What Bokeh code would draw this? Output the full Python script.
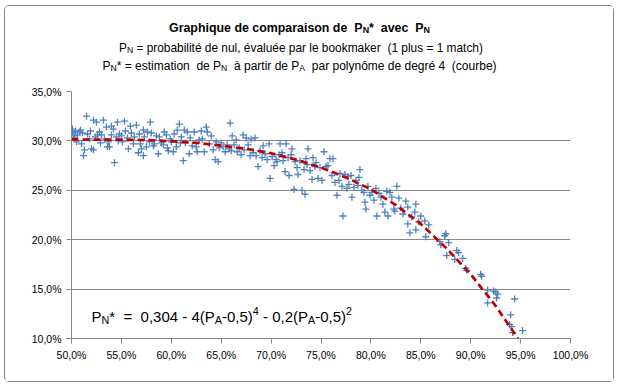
import re
from bokeh.plotting import figure
from bokeh.layouts import column
from bokeh.models import Range1d, FixedTicker, Label
from bokeh.embed import file_html
from bokeh.resources import INLINE

# ---------------- data (percent) ----------------
pa = [50.0, 50.1, 50.1, 50.2, 50.3, 50.4, 50.5, 50.6, 50.8, 50.9, 51.0, 51.1, 51.2, 51.3, 51.5, 51.6, 51.8, 51.9, 52.0, 52.2, 52.2, 52.4, 52.5, 52.6, 52.8, 52.9, 53.0,
      53.2, 53.3, 53.5, 53.6, 53.7, 53.8, 54.0, 54.0, 54.2, 54.3, 54.5, 54.6, 54.7, 54.8, 55.0, 55.1, 55.3, 55.4, 55.6, 55.7, 55.9, 56.0, 56.2, 56.3, 56.5, 56.7, 56.8, 56.9,
      57.0, 57.2, 57.2, 57.3, 57.5, 57.6, 57.8, 57.9, 58.0, 58.2, 58.3, 58.5, 58.7, 58.8, 59.0, 59.2, 59.3, 59.5, 59.6, 59.7, 59.9, 60.0, 60.2, 60.3, 60.5, 60.6, 60.8, 60.9,
      61.0, 61.2, 61.3, 61.4, 61.6, 61.8, 61.9, 62.1, 62.3, 62.5, 62.6, 62.8, 63.0, 63.1, 63.3, 63.5, 63.6, 63.8, 64.0, 64.2, 64.4, 64.5, 64.7, 64.8, 65.0, 65.2, 65.4, 65.6, 65.8, 65.9,
      66.0, 66.1, 66.3, 66.5, 66.6, 66.8, 67.0, 67.2, 67.3, 67.5, 67.7, 67.9, 68.0, 68.2, 68.4, 68.5, 68.7, 68.9, 69.1, 69.2, 69.4, 69.6, 69.8, 69.9, 70.1, 70.3, 70.5, 70.6, 70.8, 70.9,
      71.1, 71.2, 71.4, 71.5, 71.7, 71.8, 72.0, 72.1, 72.3, 72.4, 72.6, 72.7, 72.9, 73.1, 73.3, 73.4, 73.5, 73.6, 73.7, 73.9, 74.1, 74.2, 74.4, 74.5, 74.7, 74.9, 75.1, 75.3, 75.5, 75.7, 75.9,
      76.1, 76.2, 76.4, 76.6, 76.8, 76.9, 77.1, 77.2, 77.4, 77.6, 77.7, 77.8, 78.0, 78.1, 78.3, 78.5, 78.7, 78.8, 78.9, 79.1, 79.3, 79.4, 79.5, 79.7, 79.9, 80.1, 80.3, 80.5, 80.6, 80.8,
      81.0, 81.2, 81.4, 81.6, 81.7, 81.9, 82.1, 82.3, 82.4, 82.6, 82.8, 83.0, 83.2, 83.5, 83.7, 83.7, 83.9, 84.1, 84.4, 84.5, 84.5, 84.8, 85.0, 85.4, 85.5, 85.8,
      86.9, 87.0, 87.4, 87.5, 87.6, 87.8, 88.4, 88.6, 88.8, 89.2, 89.5, 89.6, 91.0, 91.1, 91.7, 91.7, 92.3, 92.5, 92.6, 92.7, 94.0, 94.1, 94.4, 94.2, 93.9, 95.2]
pn = [30.8, 31.2, 30.9, 30.3, 30.5, 31.0, 29.9, 30.6, 30.9, 31.1, 29.7, 30.8, 28.5, 29.1, 32.5, 30.7, 30.2, 31.0, 29.2, 32.1, 29.1, 30.4, 31.9, 30.6, 30.9, 29.8, 30.6,
      32.1, 30.2, 31.4, 29.4, 29.9, 29.4, 31.5, 30.6, 31.2, 27.8, 30.4, 31.9, 30.0, 30.7, 30.5, 29.9, 32.0, 31.0, 30.3, 29.2, 31.5, 30.8, 29.7, 30.4, 31.6, 28.8, 30.7, 29.7,
      29.2, 31.1, 28.5, 30.4, 29.4, 30.9, 29.9, 31.9, 30.8, 29.5, 29.7, 30.5, 28.7, 30.4, 29.8, 29.6, 30.9, 30.6, 29.3, 29.0, 30.2, 29.9, 28.9, 30.7, 29.4, 31.1, 31.7, 29.8,
      30.4, 28.0, 31.1, 29.8, 30.9, 28.7, 30.3, 29.5, 30.9, 29.4, 28.9, 30.1, 31.0, 30.2, 28.9, 31.4, 30.9, 29.7, 30.5, 29.1, 28.1, 29.9, 27.9, 29.3, 29.8, 29.4, 28.9, 29.6, 29.2, 31.8,
      29.0, 30.5, 29.6, 30.1, 28.9, 29.3, 28.6, 30.6, 29.1, 30.3, 29.6, 28.5, 30.2, 28.8, 30.3, 28.5, 27.4, 29.0, 28.3, 29.5, 28.7, 28.1, 29.7, 26.2, 28.4, 27.5, 28.1, 27.9, 28.6, 29.7,
      28.8, 28.0, 26.9, 29.7, 28.3, 26.5, 28.6, 29.2, 25.1, 27.9, 27.3, 26.6, 28.0, 25.0, 27.1, 24.6, 28.2, 27.6, 29.2, 27.0, 26.1, 28.3, 27.4, 27.8, 26.2, 27.3, 26.0, 28.9, 27.4, 27.5, 28.2,
      26.5, 28.2, 25.8, 24.5, 26.0, 26.7, 25.4, 22.4, 26.6, 25.2, 26.4, 25.6, 26.5, 24.3, 25.3, 26.0, 25.5, 26.3, 27.1, 25.0, 24.8, 23.8, 23.1, 25.4, 24.5, 24.8, 24.0, 25.2, 22.4, 24.7,
      24.3, 23.6, 22.8, 24.9, 22.4, 24.8, 24.3, 23.1, 22.9, 25.4, 24.2, 23.2, 22.6, 23.9, 23.3, 21.6, 20.7, 22.3, 22.8, 23.6, 21.0, 21.8, 22.4, 21.9, 20.3, 21.5,
      19.8, 19.5, 20.4, 20.6, 18.4, 19.7, 18.0, 18.9, 18.7, 18.1, 17.1, 16.9, 16.5, 16.3, 14.9, 13.6, 14.8, 14.7, 14.1, 14.5, 12.4, 11.2, 14.0, 10.6, 11.4, 10.8]

curve_pa = [50, 52.5, 55, 57.5, 60, 62.5, 65, 67.5, 70, 72.5, 75, 77.5, 80, 82.5, 85, 87.5, 90, 92.5, 95]
curve_pn = [30.15, 30.13, 30.12, 30.08, 29.97, 29.8, 29.53, 29.2, 28.75, 28.1, 27.3, 26.3, 25.1, 23.5, 21.6, 19.2, 16.5, 13.3, 9.6]

x_ticks = [50, 55, 60, 65, 70, 75, 80, 85, 90, 95, 100]
x_tick_labels = ["50,0%", "55,0%", "60,0%", "65,0%", "70,0%", "75,0%", "80,0%", "85,0%", "90,0%", "95,0%", "100,0%"]
y_ticks = [10, 15, 20, 25, 30, 35]
y_tick_labels = ["10,0%", "15,0%", "20,0%", "25,0%", "30,0%", "35,0%"]

title_1 = [("n", "Graphique de comparaison de  P"), ("sub", "N"), ("n", "*  avec  P"), ("sub", "N")]
title_2 = [("n", "P"), ("sub", "N"), ("n", " = probabilité de nul, évaluée par le bookmaker  (1 plus = 1 match)")]
title_3 = [("n", "P"), ("sub", "N"), ("n", "* = estimation  de P"), ("sub", "N"), ("n", "  à partir de P"), ("sub", "A"),
           ("n", "  par polynôme de degré 4  (courbe)")]
formula = [("n", "P"), ("sub", "N"), ("n", "*  =  0,304 - 4(P"), ("sub", "A"), ("n", "-0,5)"), ("sup", "4"),
           ("n", " - 0,2(P"), ("sub", "A"), ("n", "-0,5)"), ("sup", "2")]

# ---------------- geometry ----------------
FONT = "Liberation Sans"
GREY = "#868686"
TOTAL_W = 608
TOP_H = 78
MAIN_H = 297
BL, BR = 66, 43           # left / right borders shared by both figures (frames are aligned)
FRAME_W = TOTAL_W - BL - BR
BAND_TOP = 6              # page y of the title band top
MAIN_FRAME_TOP = 92       # page y of the main frame top
FRAME_LEFT = 72           # page x of the frame left edge

# title band: frame aligned with the main frame; data units == px inside the band
top = figure(width=TOTAL_W, height=TOP_H, x_range=Range1d(0, FRAME_W), y_range=Range1d(TOP_H, 0),
             x_axis_type=None, y_axis_type=None, output_backend="svg", toolbar_location=None,
             min_border_left=BL, min_border_right=BR, min_border_top=0, min_border_bottom=0)
top.outline_line_color = None
top.xgrid.visible = False
top.ygrid.visible = False

p = figure(width=TOTAL_W, height=MAIN_H, x_range=Range1d(50, 100), y_range=Range1d(10, 35),
           output_backend="svg", toolbar_location=None,
           min_border_left=BL, min_border_right=BR, min_border_top=7, min_border_bottom=MAIN_H - 7 - 247)
p.outline_line_color = None

p.xaxis.ticker = FixedTicker(ticks=x_ticks)
p.yaxis.ticker = FixedTicker(ticks=y_ticks)
p.xaxis.major_label_overrides = dict(zip(x_ticks, x_tick_labels))
p.yaxis.major_label_overrides = dict(zip(y_ticks, y_tick_labels))
for ax in (p.xaxis, p.yaxis):
    ax.axis_line_color = GREY
    ax.major_tick_line_color = GREY
    ax.minor_tick_line_color = None
    ax.major_tick_in = 0
    ax.major_tick_out = 5
    ax.major_label_standoff = 5
    ax.major_label_text_font = FONT
    ax.major_label_text_font_size = "10.5px"
    ax.major_label_text_color = "#000000"
p.xgrid.grid_line_color = None
p.ygrid.grid_line_color = GREY
p.ygrid.grid_line_width = 1

p.scatter(pa, pn, marker="cross", size=7, line_color="#4F81BD", line_width=1.3)
p.line(curve_pa, curve_pn, line_color="#C00000", line_width=2.7, line_dash="7 4")

# ---------------- text layout helpers ----------------
W_REG = {' ': 278, ',': 278, '-': 333, '(': 333, ')': 333, '*': 389, '=': 584, '%': 889,
         'a': 556, 'b': 556, 'c': 500, 'd': 556, 'e': 556, 'g': 556, 'h': 556, 'i': 222, 'k': 500,
         'l': 222, 'm': 833, 'n': 556, 'o': 556, 'p': 556, 'q': 556, 'r': 333, 's': 500, 't': 278,
         'u': 556, 'v': 500, 'y': 500, 'é': 556, 'à': 556, 'ô': 556,
         'A': 667, 'N': 722, 'P': 667, 'G': 778}
W_BOLD = {' ': 278, '*': 389, 'a': 556, 'c': 556, 'd': 611, 'e': 556, 'h': 611, 'i': 278, 'm': 889,
          'n': 611, 'o': 611, 'p': 611, 'q': 611, 'r': 389, 's': 556, 'u': 611, 'v': 556,
          'G': 778, 'N': 722, 'P': 667}


def tw(s, size, bold):
    tbl = W_BOLD if bold else W_REG
    return sum(tbl.get(c, 556) for c in s) * size / 1000.0


# page px -> data coordinates of each figure
def main_x(X):
    return 50 + (X - FRAME_LEFT) * 50.0 / FRAME_W


def main_y(Y):
    return 35 - (Y - MAIN_FRAME_TOP) * 25.0 / 247


def top_x(X):
    return X - FRAME_LEFT


def top_y(Y):
    return Y - BAND_TOP


def place(fig, cx, cy, pieces, X0, baseY, size, bold=False, center=False):
    def psz(kind):
        return size * 0.72 if kind in ("sub", "sup") else size
    total = sum(tw(t, psz(k), bold) for k, t in pieces)
    X = X0 - total / 2.0 if center else X0
    for kind, t in pieces:
        s = psz(kind)
        dy = {"n": 0.0, "sub": 0.24 * size, "sup": -0.40 * size}[kind]
        for tok in re.split(r'( {2,}|^ +| +$)', t):
            if not tok:
                continue
            if tok.strip() == "":
                X += tw(tok, s, bold)
                continue
            fig.add_layout(Label(x=cx(X), y=cy(baseY + dy), text=tok, text_font=FONT,
                                 text_font_size="%.2fpx" % s,
                                 text_font_style="bold" if bold else "normal",
                                 text_color="#000000", text_baseline="alphabetic", text_align="left"))
            X += tw(tok, s, bold)


place(top, top_x, top_y, title_1, 300, 27, 12.4, bold=True, center=True)
place(top, top_x, top_y, title_2, 301.5, 47, 11.9, center=True)
place(top, top_x, top_y, title_3, 300, 65, 12.0, center=True)
place(p, main_x, main_y, formula, 92, 317, 15.0)

layout = column(top, p, spacing=0,
                styles={"border": "1px solid #868686", "border-radius": "5px", "background": "#ffffff",
                        "margin-left": "4px", "margin-top": "5px"})

open("out.html", "w").write(file_html(layout, INLINE))
